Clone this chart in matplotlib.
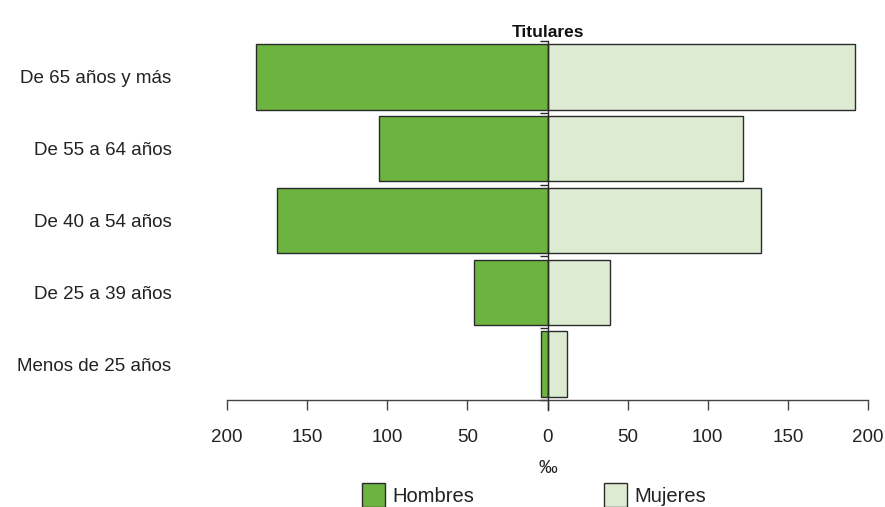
import numpy as np
import matplotlib
matplotlib.use("Agg")
import matplotlib.pyplot as plt
from matplotlib.patches import Patch

# data (per mille)
grupos = ["De 65 años y más", "De 55 a 64 años", "De 40 a 54 años",
          "De 25 a 39 años", "Menos de 25 años"]
hombres = [182, 105, 169, 46, 4]
mujeres = [192, 122, 133, 39, 12]
xticks = [-200, -150, -100, -50, 0, 50, 100, 150, 200]
xlabels = ["200", "150", "100", "50", "0", "50", "100", "150", "200"]

verde = "#6db33f"
verde_claro = "#deebd3"
borde = "#2b2b2b"

plt.rcParams["font.family"] = ["Liberation Sans", "DejaVu Sans"]

fig = plt.figure(figsize=(8.85, 5.07), dpi=100)
ax = fig.add_axes([227 / 885, 1 - 400 / 507, (868 - 227) / 885, (400 - 41) / 507])

y = np.arange(len(grupos))
ax.barh(y, [-h for h in hombres], height=0.91, color=verde,
        edgecolor=borde, linewidth=1.0, zorder=3)
ax.barh(y, mujeres, height=0.91, color=verde_claro,
        edgecolor=borde, linewidth=1.0, zorder=3)

ax.set_xlim(-200, 200)
ax.set_ylim(len(grupos) - 0.5, -0.5)

# central axis with ticks between the groups
ax.plot([0, 0], [-0.5, len(grupos) - 0.5 + 0.14], color=borde,
        linewidth=1.0, clip_on=False, zorder=4)
limites = np.arange(len(grupos) + 1) - 0.5
ax.hlines(limites, -4.5, 0, color=borde, linewidth=1.0, clip_on=False, zorder=2)

for s in ["left", "right", "top"]:
    ax.spines[s].set_visible(False)
ax.spines["bottom"].set_color("#444444")
ax.spines["bottom"].set_linewidth(1.0)

ax.set_xticks(xticks)
ax.set_xticklabels(xlabels, fontsize=13.5, color="#222222")
ax.tick_params(axis="x", length=7, width=1.0, color="#444444", pad=14)
ax.set_yticks(y)
ax.set_yticklabels(grupos, fontsize=13.5, color="#222222")
ax.tick_params(axis="y", length=0, pad=40)

ax.set_xlabel("‰", fontsize=13.5, labelpad=10, color="#222222")
ax.set_title("Titulares", fontsize=12.5, fontweight="bold", pad=3, color="#111111")

handles = [Patch(facecolor=verde, edgecolor=borde, label="Hombres"),
           Patch(facecolor=verde_claro, edgecolor=borde, label="Mujeres")]
leg = fig.legend(handles=handles, loc="center", bbox_to_anchor=(534 / 885, 1 - 495 / 507),
                 ncol=2, frameon=False, fontsize=14.5, handlelength=1.15, handleheight=1.4,
                 handletextpad=0.4, columnspacing=6.4)
for t in leg.get_texts():
    t.set_color("#222222")

fig.savefig("out.png", dpi=100)
